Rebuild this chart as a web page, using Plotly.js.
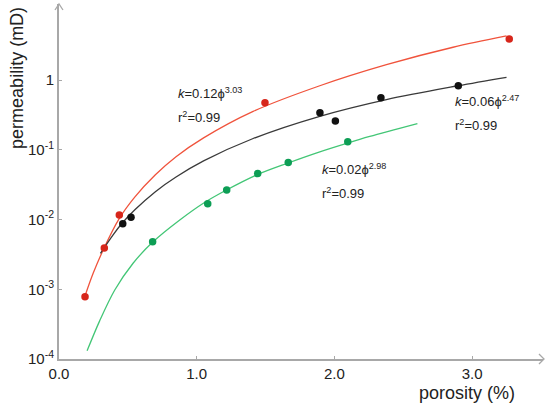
<!DOCTYPE html>
<html>
<head>
<meta charset="utf-8">
<script src="https://cdn.plot.ly/plotly-3.0.1.min.js"></script>
<style>html,body{margin:0;padding:0;background:#fff;}#chart{width:550px;height:409px;}</style>
</head>
<body>
<div id="chart"></div>
<script>
// measured data points (porosity %, permeability mD)
var redPhi   = [0.189, 0.329, 0.438, 1.496, 3.27];
var redK     = [7.8e-4, 3.9e-3, 0.0116, 0.472, 3.87];
var blackPhi = [0.463, 0.523, 1.895, 2.007, 2.338, 2.90];
var blackK   = [8.7e-3, 0.0108, 0.34, 0.258, 0.557, 0.83];
var greenPhi = [0.680, 1.080, 1.218, 1.443, 1.665, 2.097];
var greenK   = [4.78e-3, 0.0168, 0.0266, 0.0456, 0.0656, 0.130];

// fitted curves
var redFitPhi = [0.187, 0.248, 0.325, 0.436, 0.55, 0.70, 0.85, 1.05, 1.41, 1.894, 2.378, 2.862, 3.25];
var redFitK   = [7.81e-4, 1.69e-3, 3.81e-3, 0.0102, 0.0209, 0.0437, 0.0794, 0.148, 0.355, 0.828, 1.66, 2.95, 4.28];
var blackFitPhi = [0.301, 0.393, 0.458, 0.551, 0.70, 0.85, 1.05, 1.41, 1.894, 2.378, 2.898, 3.25];
var blackFitK   = [3.27e-3, 6.03e-3, 8.83e-3, 0.0138, 0.0251, 0.0407, 0.0692, 0.145, 0.302, 0.525, 0.828, 1.094];
var greenFitPhi = [0.204, 0.296, 0.405, 0.538, 0.681, 0.877, 1.054, 1.216, 1.434, 1.664, 1.894, 2.095, 2.257, 2.603];
var greenFitK   = [1.31e-4, 3.55e-4, 9.75e-4, 2.36e-3, 4.75e-3, 9.84e-3, 0.0174, 0.0265, 0.0435, 0.0646, 0.0933, 0.1245, 0.155, 0.237];

// tick labels
var xTickVals = [0, 1, 2, 3];
var xTickText = ['0.0', '1.0', '2.0', '3.0'];
var yTickVals = [1e-4, 1e-3, 1e-2, 1e-1, 1];
var yTickText = ['10<sup>-4</sup>', '10<sup>-3</sup>', '10<sup>-2</sup>', '10<sup>-1</sup>', '1'];

// equation labels
var eqText = [
  '<i>k</i>=0.12\u03d5<sup>3.03</sup>', 'r<sup>2</sup>=0.99',
  '<i>k</i>=0.06\u03d5<sup>2.47</sup>', 'r<sup>2</sup>=0.99',
  '<i>k</i>=0.02\u03d5<sup>2.98</sup>', 'r<sup>2</sup>=0.99'
];
var eqX = [0.848, 0.848, 2.86, 2.86, 1.894, 1.894];
var eqY = [-0.186, -0.535, -0.297, -0.649, -1.272, -1.616];

var FONT = 'Liberation Sans, Arial, sans-serif';

function fit(x, y, c) {
  return {x: x, y: y, mode: 'lines', type: 'scatter', line: {color: c, width: 1.3, shape: 'spline', smoothing: 0.9}, hoverinfo: 'skip', showlegend: false};
}
function pts(x, y, c) {
  return {x: x, y: y, mode: 'markers', type: 'scatter', marker: {color: c, size: 7.5}, showlegend: false, cliponaxis: false};
}

var data = [
  fit(redFitPhi, redFitK, '#f0533c'),
  fit(blackFitPhi, blackFitK, '#3a3a3a'),
  fit(greenFitPhi, greenFitK, '#43c676'),
  pts(redPhi, redK, '#d7261b'),
  pts(blackPhi, blackK, '#111111'),
  pts(greenPhi, greenK, '#0d9e55')
];

var annotations = [];
for (var i = 0; i < eqText.length; i++) {
  annotations.push({x: eqX[i], y: eqY[i], xref: 'x', yref: 'y', text: eqText[i], showarrow: false,
    xanchor: 'left', yanchor: 'middle', font: {family: FONT, size: 13, color: '#222'}});
}
annotations.push({xref: 'paper', yref: 'paper', x: -0.087, y: 0.7915, text: 'permeability (mD)', textangle: -90,
  showarrow: false, xanchor: 'center', yanchor: 'middle', font: {family: FONT, size: 18, color: '#222'}});
annotations.push({xref: 'paper', yref: 'paper', x: 0.8435, y: -0.0966, text: 'porosity (%)',
  showarrow: false, xanchor: 'center', yanchor: 'middle', font: {family: FONT, size: 18, color: '#222'}});

var axisColor = '#a8a8a8';
var layout = {
  width: 550, height: 409,
  margin: {l: 59, r: 7, t: 4, b: 50, pad: 0},
  paper_bgcolor: '#fff', plot_bgcolor: '#fff',
  showlegend: false,
  xaxis: {range: [0, 3.515], showgrid: false, zeroline: false, showline: true, linecolor: axisColor, linewidth: 2,
    ticks: 'inside', ticklen: 3, tickcolor: axisColor, tickwidth: 1,
    tickvals: xTickVals, ticktext: xTickText, tickfont: {family: FONT, size: 15, color: '#222'}},
  yaxis: {type: 'log', range: [-4, 1.09], showgrid: false, zeroline: false, showline: true, linecolor: axisColor, linewidth: 2,
    ticks: 'inside', ticklen: 3, tickcolor: axisColor, tickwidth: 1,
    tickvals: yTickVals, ticktext: yTickText, tickfont: {family: FONT, size: 15, color: '#222'}},
  annotations: annotations,
  shapes: [
    {type: 'path', xref: 'paper', yref: 'paper', path: 'M -0.00826 0.9831 L 0 1 L 0.00826 0.9831', line: {color: axisColor, width: 1.3}},
    {type: 'path', xref: 'paper', yref: 'paper', path: 'M 0.9917 0.01408 L 1.0021 0 L 0.9917 -0.01408', line: {color: axisColor, width: 1.3}}
  ]
};

Plotly.newPlot('chart', data, layout, {displayModeBar: false, staticPlot: true});
</script>
</body>
</html>
